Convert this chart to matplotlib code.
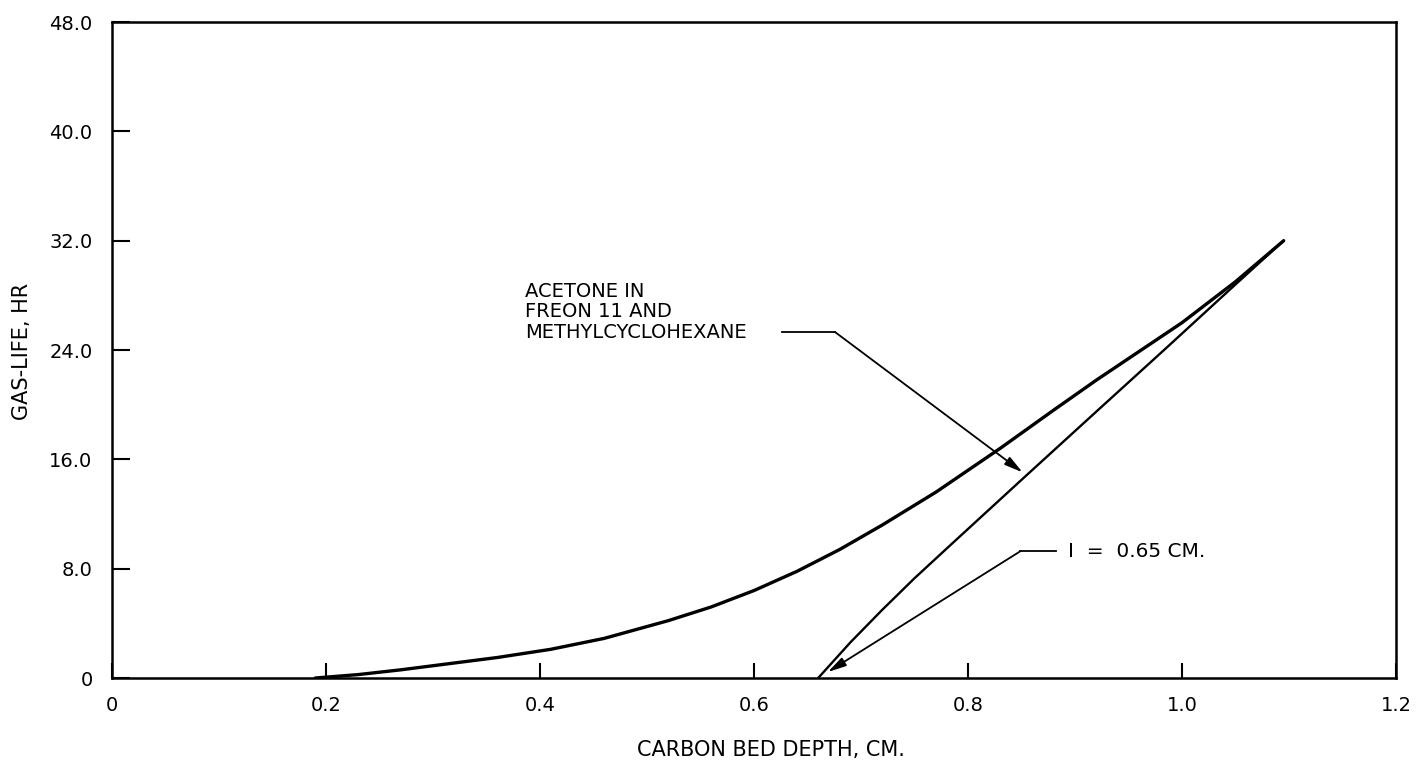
import matplotlib.pyplot as plt

# Gas-life vs carbon bed depth, acetone in Freon 11 and methylcyclohexane
upper_depth = [0.19, 0.23, 0.27, 0.31, 0.36, 0.41, 0.46, 0.52, 0.56, 0.60, 0.64,
               0.68, 0.72, 0.77, 0.83, 0.88, 0.92, 0.96, 1.00, 1.05, 1.095]
upper_life = [0.0, 0.25, 0.6, 1.0, 1.5, 2.1, 2.9, 4.2, 5.2, 6.4, 7.8,
              9.4, 11.2, 13.6, 16.8, 19.6, 21.8, 23.9, 26.0, 29.0, 32.0]

lower_depth = [0.66, 0.69, 0.72, 0.75, 0.786, 0.85, 0.92, 0.986, 1.05, 1.095]
lower_life = [0.0, 2.6, 5.0, 7.3, 9.9, 14.5, 19.5, 24.2, 28.8, 32.0]

x_ticks = [0, 0.2, 0.4, 0.6, 0.8, 1.0, 1.2]
x_labels = ['0', '0.2', '0.4', '0.6', '0.8', '1.0', '1.2']
y_ticks = [0, 8, 16, 24, 32, 40, 48]
y_labels = ['0', '8.0', '16.0', '24.0', '32.0', '40.0', '48.0']

fig = plt.figure(figsize=(14.19, 7.65), dpi=100)
ax = fig.add_axes([0.0789, 0.1137, 0.9049, 0.8575])

ax.plot(upper_depth, upper_life, color='black', lw=2.4, solid_capstyle='round',
        solid_joinstyle='round')
ax.plot(lower_depth, lower_life, color='black', lw=1.7, solid_capstyle='round',
        solid_joinstyle='round')

ax.set_xlim(0, 1.2)
ax.set_ylim(0, 48)
ax.set_xticks(x_ticks)
ax.set_xticklabels(x_labels)
ax.set_yticks(y_ticks)
ax.set_yticklabels(y_labels)
ax.tick_params(axis='both', direction='in', width=1.5, labelsize=14, color='black')
ax.tick_params(axis='x', length=11, pad=13)
ax.tick_params(axis='y', length=13, pad=14)
for side in ax.spines.values():
    side.set_linewidth(1.8)

fig.text(0.543, 0.0196, 'CARBON BED DEPTH, CM.', fontsize=15, ha='center', va='center')
fig.text(0.0155, 0.54, 'GAS-LIFE, HR', fontsize=15, rotation=90, ha='center', va='center')

arrow = dict(arrowstyle='-|>,head_length=1.1,head_width=0.28', color='black', lw=1.3,
             shrinkA=0, shrinkB=0)

# label for the loop
ax.text(0.386, 26.8, 'ACETONE IN\nFREON 11 AND\nMETHYLCYCLOHEXANE', fontsize=14,
        ha='left', va='center', linespacing=1.1)
ax.plot([0.626, 0.676], [25.3, 25.3], color='black', lw=1.3)
ax.annotate('', xy=(0.851, 15.05), xytext=(0.676, 25.3), arrowprops=arrow)

# intercept label
ax.text(0.893, 9.28, 'I  =  0.65 CM.', fontsize=14.5, ha='left', va='center')
ax.plot([0.849, 0.882], [9.28, 9.28], color='black', lw=1.3)
ax.annotate('', xy=(0.669, 0.44), xytext=(0.849, 9.28), arrowprops=arrow)

fig.savefig('out.png', dpi=100)
